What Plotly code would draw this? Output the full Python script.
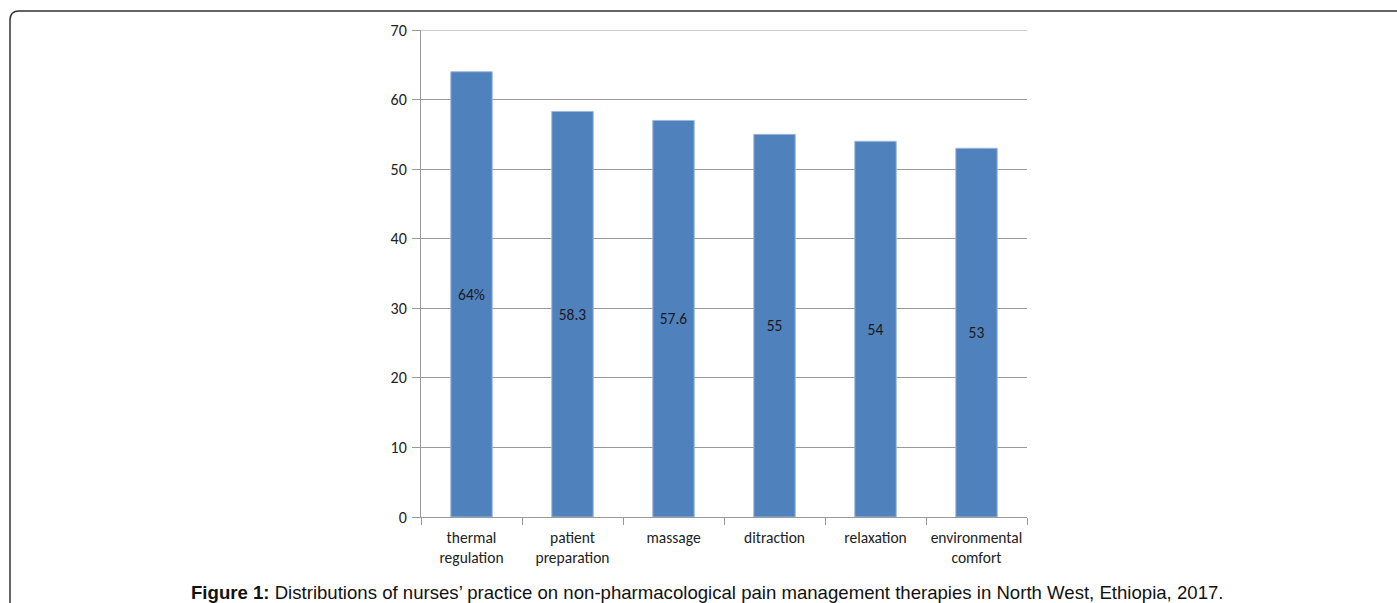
import plotly.graph_objects as go

categories = ["thermal<br>regulation", "patient<br>preparation", "massage",
              "ditraction", "relaxation", "environmental<br>comfort"]
values = [64, 58.3, 57, 55, 54, 53]
bar_labels = ["64%", "58.3", "57.6", "55", "54", "53"]
y_ticks = [0, 10, 20, 30, 40, 50, 60, 70]

W, H = 1397, 603
L, R, T, B = 421, 1027, 30, 517
pw, ph = R - L, B - T

def px(x):
    return (x - L) / pw

def py(y):
    return (B - y) / ph

FONT = "Carlito, Lato, sans-serif"

fig = go.Figure()
fig.add_trace(go.Bar(
    x=categories, y=values, text=bar_labels,
    textposition="inside", insidetextanchor="middle",
    textfont=dict(family=FONT, size=15.5, color="#1a1a1a"),
    marker=dict(color="#4F81BD", line=dict(color="#9DB7DD", width=1)),
    width=0.41, cliponaxis=False,
))

# top gridline at the upper range edge
fig.add_shape(type="line", xref="paper", yref="y", x0=0, x1=1, y0=y_ticks[-1], y1=y_ticks[-1],
              line=dict(color="#999999", width=1), layer="below")

# rounded frame
r = 9
x0, y0 = 10, 11
path = (f"M {px(x0)} {py(W)} L {px(x0)} {py(y0 + r)} "
        f"Q {px(x0)} {py(y0)} {px(x0 + r)} {py(y0)} L {px(W + 20)} {py(y0)}")
fig.add_shape(type="path", path=path, xref="paper", yref="paper",
              line=dict(color="#333333", width=1.5))

fig.add_annotation(
    text="<b>Figure 1:</b> Distributions of nurses\u2019 practice on non-pharmacological pain management therapies in North West, Ethiopia, 2017.",
    xref="paper", yref="paper", x=px(707), y=py(592), showarrow=False,
    xanchor="center", yanchor="middle",
    font=dict(family="Liberation Sans, Arial, sans-serif", size=18.6, color="#111111"),
)

fig.update_layout(
    width=W, height=H,
    margin=dict(l=L, r=W - R, t=T, b=H - B, pad=0),
    paper_bgcolor="white", plot_bgcolor="white",
    showlegend=False, bargap=0.59,
    xaxis=dict(
        type="category", showgrid=False, showline=True, linecolor="#999999", linewidth=1,
        ticks="outside", tickson="boundaries", ticklen=7, tickcolor="#999999",
        tickfont=dict(family=FONT, size=15.5, color="#222222"),
        ticklabelstandoff=6,
        range=[-0.5, 5.5],
    ),
    yaxis=dict(
        range=[0, 70], tickvals=y_ticks, showgrid=True, gridcolor="#999999", gridwidth=1,
        showline=True, linecolor="#999999", linewidth=1, zeroline=False,
        ticks="outside", ticklen=8, tickcolor="#999999",
        tickfont=dict(family=FONT, size=16, color="#222222"),
        ticklabelstandoff=2,
    ),
)

fig.write_html("out.html")
